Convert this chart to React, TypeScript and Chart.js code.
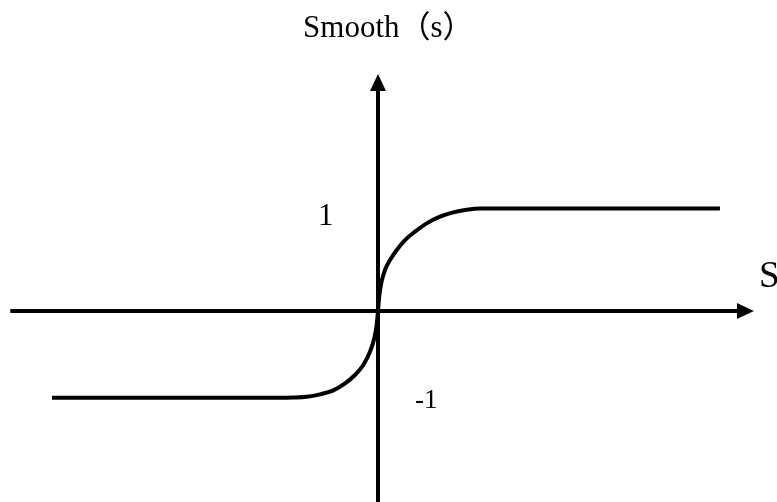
import React, { useEffect, useRef } from "react";
import { Chart, registerables } from "chart.js";

Chart.register(...registerables);

// Curve points (S, Smooth(s))
const curveX = [
  -3.165, -0.951, -0.822, -0.692, -0.563, -0.434, -0.32, -0.223, -0.143, -0.078, -0.036, -0.013, 0,
  0.013, 0.036, 0.068, 0.117, 0.182, 0.262, 0.359, 0.473, 0.602, 0.731, 0.861, 0.99, 3.32,
];
const curveY = [
  -0.842, -0.842, -0.84, -0.833, -0.809, -0.77, -0.702, -0.621, -0.524, -0.395, -0.265, -0.136, 0,
  0.15, 0.29, 0.398, 0.495, 0.592, 0.689, 0.77, 0.851, 0.916, 0.958, 0.983, 0.995, 0.995,
];

// Axis extents (data units)
const hAxisX = [-3.57, 3.5];
const vAxisY = [-1.9, 2.16];
const hArrowTip = 3.65;
const vArrowTip = 2.3;

// Text labels
const labelTexts = ["Smooth（s）", "1", "-1", "S"];
const labelX = [0.1, -0.583, 0.359, 3.7];
const labelY = [2.66, 0.835, -0.942, 0.233];

const SERIF = '"Liberation Serif", "Times New Roman", "Noto Sans CJK SC", serif';
const labelFonts = [`31px ${SERIF}`, `31px ${SERIF}`, `27px ${SERIF}`, `37px ${SERIF}`];
const labelAlign: CanvasTextAlign[] = ["center", "left", "left", "left"];

const decorPlugin = {
  id: "decor",
  afterDatasetsDraw(chart: any) {
    const { ctx, scales } = chart;
    const xs = scales.x;
    const ys = scales.y;
    ctx.save();
    ctx.fillStyle = "#000";
    // horizontal arrow
    const hx = xs.getPixelForValue(hArrowTip);
    const hy = ys.getPixelForValue(0);
    ctx.beginPath();
    ctx.moveTo(hx, hy);
    ctx.lineTo(hx - 17, hy - 8);
    ctx.lineTo(hx - 17, hy + 8);
    ctx.closePath();
    ctx.fill();
    // vertical arrow
    const vx = xs.getPixelForValue(0);
    const vy = ys.getPixelForValue(vArrowTip);
    ctx.beginPath();
    ctx.moveTo(vx, vy);
    ctx.lineTo(vx - 8, vy + 17);
    ctx.lineTo(vx + 8, vy + 17);
    ctx.closePath();
    ctx.fill();
    // labels
    ctx.textBaseline = "alphabetic";
    labelTexts.forEach((t, i) => {
      ctx.font = labelFonts[i];
      ctx.textAlign = labelAlign[i];
      ctx.fillText(t, xs.getPixelForValue(labelX[i]), ys.getPixelForValue(labelY[i]));
    });
    ctx.restore();
  },
};

export default function App() {
  const ref = useRef<HTMLCanvasElement | null>(null);
  useEffect(() => {
    document.body.style.margin = "0";
    const canvas = ref.current;
    if (!canvas) return;
    const lineStyle = {
      borderColor: "#000",
      borderWidth: 4,
      pointRadius: 0,
      fill: false,
      clip: false as any,
      borderCapStyle: "butt" as const,
    };
    const chart = new Chart(canvas, {
      type: "line",
      data: {
        datasets: [
          {
            ...lineStyle,
            data: hAxisX.map((x) => ({ x, y: 0 })),
          },
          {
            ...lineStyle,
            data: vAxisY.map((y) => ({ x: 0, y })),
          },
          {
            ...lineStyle,
            borderJoinStyle: "round",
            cubicInterpolationMode: "monotone",
            data: curveX.map((x, i) => ({ x, y: curveY[i] })),
          },
        ],
      },
      options: {
        animation: false,
        responsive: false,
        layout: { padding: 0 },
        plugins: { legend: { display: false }, tooltip: { enabled: false }, title: { display: false } },
        scales: {
          x: { type: "linear", min: -3.67, max: 3.874, display: false },
          y: { type: "linear", min: -1.854, max: 3.019, display: false },
        },
      },
      plugins: [decorPlugin],
    });
    return () => chart.destroy();
  }, []);
  return (
    <div style={{ width: 777, height: 502, background: "#fff" }}>
      <canvas ref={ref} width={777} height={502} />
    </div>
  );
}
